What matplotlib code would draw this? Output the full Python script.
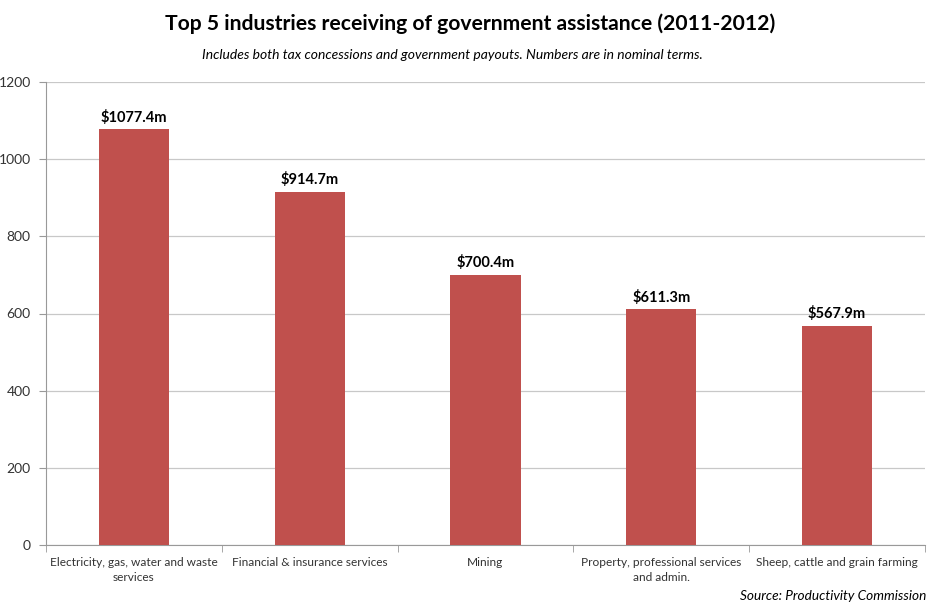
import matplotlib
matplotlib.use("Agg")
import matplotlib.pyplot as plt
import numpy as np

categories = ["Electricity, gas, water and waste\nservices",
              "Financial & insurance services",
              "Mining",
              "Property, professional services\nand admin.",
              "Sheep, cattle and grain farming"]
values = [1077.4, 914.7, 700.4, 611.3, 567.9]
yticks = [0, 200, 400, 600, 800, 1000, 1200]

plt.rcParams['font.family'] = ['Lato', 'DejaVu Sans']

fig = plt.figure(figsize=(9.4, 6.14), dpi=100)
ax = fig.add_axes([46/940, 1-545/614, (925-46)/940, (545-82)/614])

x = np.arange(len(categories))
ax.bar(x, values, width=0.4, color="#C0504D", zorder=3)
for xi, v in zip(x, values):
    ax.text(xi, v + 12, f"${v:.1f}m", ha="center", va="bottom",
            fontsize=10.5, fontweight="bold", color="black")

ax.set_xlim(-0.5, len(categories) - 0.5)
ax.set_ylim(0, 1200)
ax.set_yticks(yticks)
ax.set_yticklabels([str(t) for t in yticks], fontsize=10, color="#333333")
ax.yaxis.grid(True, color="#C8C8C8", linewidth=0.9, zorder=0)
ax.set_axisbelow(True)

ax.set_xticks(x)
ax.set_xticklabels(categories, fontsize=8.6, color="#333333", linespacing=1.35)
ax.tick_params(axis="x", length=0, pad=9)
ax.set_xticks(np.arange(len(categories) + 1) - 0.5, minor=True)
ax.tick_params(axis="x", which="minor", length=5, color="#999999")
ax.tick_params(axis="y", length=5, color="#999999", pad=6)

for s in ["top", "right"]:
    ax.spines[s].set_visible(False)
for s in ["left", "bottom"]:
    ax.spines[s].set_color("#999999")

fig.text(470/940, 1-24/614, "Top 5 industries receiving of government assistance (2011-2012)",
         ha="center", va="center", fontsize=15.2, fontweight="bold")
fig.text(452/940, 1-55/614, "Includes both tax concessions and government payouts. Numbers are in nominal terms.",
         ha="center", va="center", fontsize=10, style="italic")
fig.text(926/940, 1-596/614, "Source: Productivity Commission",
         ha="right", va="center", fontsize=9.8, style="italic")

fig.savefig("out.png", dpi=100)
